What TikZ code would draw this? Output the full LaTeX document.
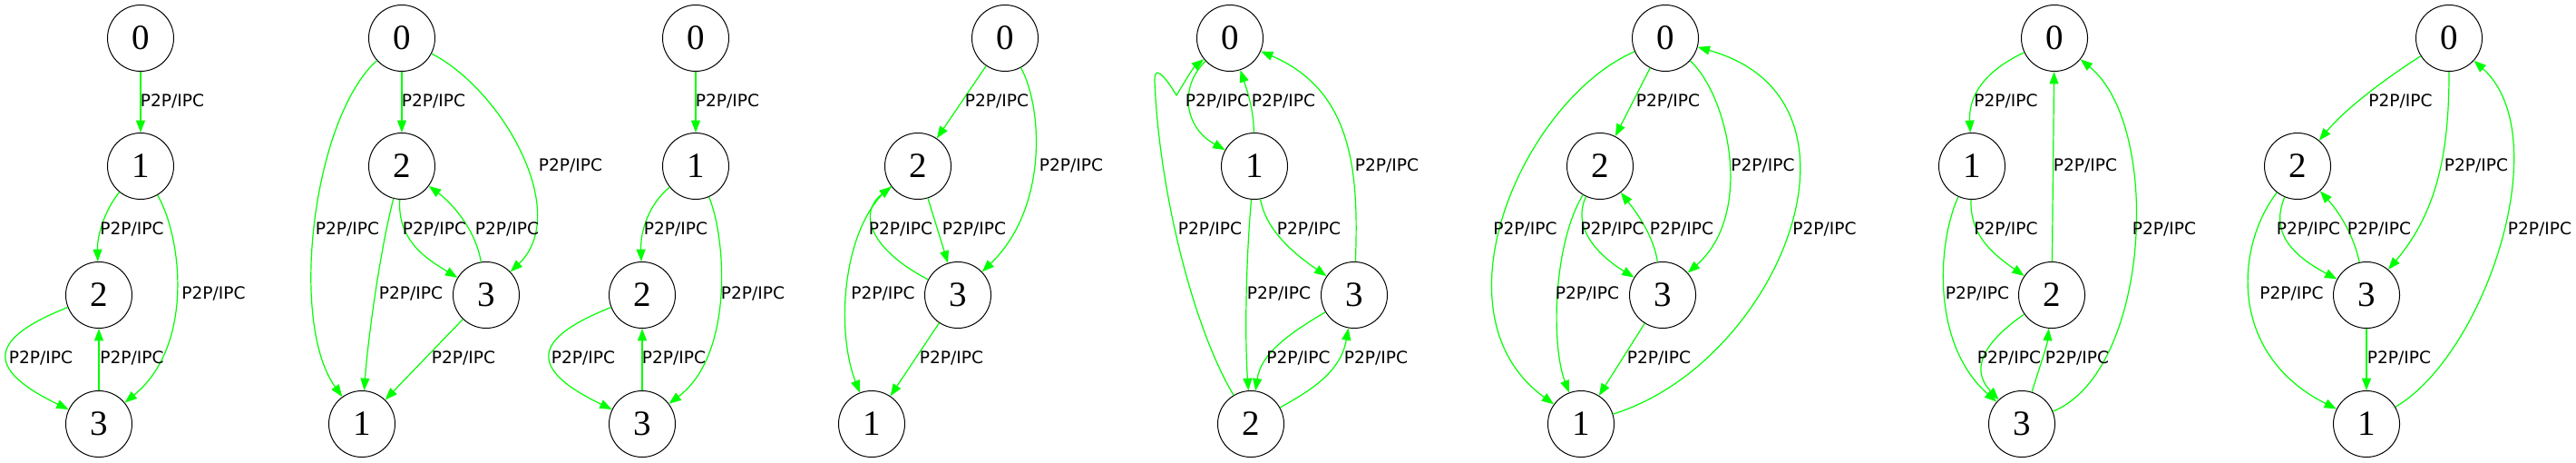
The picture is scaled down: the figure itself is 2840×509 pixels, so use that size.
\documentclass[tikz,border=0pt]{standalone}
\usepackage{fontspec}
\newfontfamily\lblfont{DejaVu Sans}
\newfontfamily\numfont{Liberation Serif}
\usetikzlibrary{arrows.meta}
\definecolor{ggreen}{HTML}{00FF00}
\begin{document}
\begin{tikzpicture}[x=0.5pt,y=-0.5pt,
  st/.style={circle,draw=black,line width=0.5pt,minimum size=36.5pt,inner sep=0pt,font=\numfont\fontsize{19.5pt}{20pt}\selectfont},
  e/.style={draw=ggreen,line width=0.6pt,-{Triangle[length=6.7pt,width=5pt]}},
  lb/.style={font=\lblfont\fontsize{9.3pt}{10pt}\selectfont,inner sep=0pt}]
\useasboundingbox (0,0) rectangle (2840,509);
% ---------- graph 1
\node[st] (a0) at (155,42) {0};
\node[st] (a1) at (155,183) {1};
\node[st] (a2) at (109,325) {2};
\node[st] (a3) at (109,467) {3};
\draw[e] (a0) -- (a1);
\draw[e] (a1) .. controls (115,232) and (107,260) .. (a2);
\draw[e] (a1) .. controls (200,260) and (215,380) .. (a3);
\draw[e] (a2) .. controls (-10,372) and (-20,405) .. (a3);
\draw[e] (a3) -- (a2);
\node[lb] (la1) at (190,111) {P2P/IPC};
\node[lb] (la2) at (145.5,252) {P2P/IPC};
\node[lb] (la3) at (235.5,323) {P2P/IPC};
\node[lb] (la4) at (45,394) {P2P/IPC};
\node[lb] (la5) at (145.5,394) {P2P/IPC};
% ---------- graph 2
\node[st] (b0) at (443,42) {0};
\node[st] (b2) at (443,183) {2};
\node[st] (b3) at (536,325) {3};
\node[st] (b1) at (399,467) {1};
\draw[e] (b0) -- (b2);
\draw[e] (b0) .. controls (555,100) and (630,235) .. (b3);
\draw[e] (b0) .. controls (345,130) and (318,355) .. (b1);
\draw[e] (b2) .. controls (438,265) and (470,285) .. (b3);
\draw[e] (b3) .. controls (525,255) and (500,225) .. (b2);
\draw[e] (b2) .. controls (418,280) and (405,380) .. (b1);
\draw[e] (b3) -- (b1);
\node[lb] (lb1) at (478,111) {P2P/IPC};
\node[lb] (lb2) at (629,182) {P2P/IPC};
\node[lb] (lb3) at (383,252) {P2P/IPC};
\node[lb] (lb4) at (479,252) {P2P/IPC};
\node[lb] (lb5) at (559,252) {P2P/IPC};
\node[lb] (lb6) at (453,323) {P2P/IPC};
\node[lb] (lb7) at (511,394) {P2P/IPC};
% ---------- graph 3
\node[st] (c0) at (767,42) {0};
\node[st] (c1) at (767,183) {1};
\node[st] (c2) at (708,325) {2};
\node[st] (c3) at (708,467) {3};
\draw[e] (c0) -- (c1);
\draw[e] (c1) .. controls (715,225) and (706,255) .. (c2);
\draw[e] (c1) .. controls (800,260) and (810,390) .. (c3);
\draw[e] (c2) .. controls (589,372) and (579,405) .. (c3);
\draw[e] (c3) -- (c2);
\node[lb] (lc1) at (802,111) {P2P/IPC};
\node[lb] (lc2) at (745,252) {P2P/IPC};
\node[lb] (lc3) at (830,323) {P2P/IPC};
\node[lb] (lc4) at (643,394) {P2P/IPC};
\node[lb] (lc5) at (743,394) {P2P/IPC};
% ---------- graph 4
\node[st] (d0) at (1108,42) {0};
\node[st] (d2) at (1012,183) {2};
\node[st] (d3) at (1056,325) {3};
\node[st] (d1) at (961,467) {1};
\draw[e] (d0) -- (d2);
\draw[e] (d0) .. controls (1150,120) and (1155,230) .. (d3);
\draw[e] (d2) -- (d3);
\draw[e] (d3) .. controls (960,275) and (945,235) .. (d2);
\draw[e] (d2) .. controls (930,245) and (920,360) .. (d1);
\draw[e] (d3) -- (d1);
\node[lb] (ld1) at (1099,111) {P2P/IPC};
\node[lb] (ld2) at (1181,182) {P2P/IPC};
\node[lb] (ld3) at (993,252) {P2P/IPC};
\node[lb] (ld4) at (1074,252) {P2P/IPC};
\node[lb] (ld5) at (973.5,323) {P2P/IPC};
\node[lb] (ld6) at (1049,394) {P2P/IPC};
% ---------- graph 5
\node[st] (e0) at (1356,42) {0};
\node[st] (e1) at (1383,183) {1};
\node[st] (e3) at (1493,325) {3};
\node[st] (e2) at (1379,467) {2};
\draw[e] (e0) .. controls (1300,95) and (1305,140) .. (e1);
\draw[e] (e1) .. controls (1382,120) and (1375,100) .. (e0);
\draw[e] (e3) .. controls (1498,190) and (1492,100) .. (e0);
\draw[e] (e2) .. controls (1315,360) and (1278,210) .. (1273,90) .. controls (1272,72) and (1282,80) .. (1297,105) .. controls (1305,92) and (1315,75) .. (e0);
\draw[e] (e1) .. controls (1395,250) and (1420,275) .. (e3);
\draw[e] (e1) .. controls (1374,280) and (1372,370) .. (e2);
\draw[e] (e3) .. controls (1420,368) and (1390,390) .. (e2);
\draw[e] (e2) .. controls (1445,430) and (1478,410) .. (e3);
\node[lb] (le1) at (1342,111) {P2P/IPC};
\node[lb] (le2) at (1415,111) {P2P/IPC};
\node[lb] (le3) at (1529,182) {P2P/IPC};
\node[lb] (le4) at (1334,252) {P2P/IPC};
\node[lb] (le5) at (1443,252) {P2P/IPC};
\node[lb] (le6) at (1410,323) {P2P/IPC};
\node[lb] (le7) at (1431.5,394) {P2P/IPC};
\node[lb] (le8) at (1517,394) {P2P/IPC};
% ---------- graph 6
\node[st] (f0) at (1836,42) {0};
\node[st] (f2) at (1764,183) {2};
\node[st] (f3) at (1833,325) {3};
\node[st] (f1) at (1743,467) {1};
\draw[e] (f0) -- (f2);
\draw[e] (f0) .. controls (1905,105) and (1935,235) .. (f3);
\draw[e] (f0) .. controls (1680,110) and (1575,345) .. (f1);
\draw[e] (f2) .. controls (1733,250) and (1760,280) .. (f3);
\draw[e] (f3) .. controls (1823,260) and (1805,235) .. (f2);
\draw[e] (f1) .. controls (1960,400) and (2080,110) .. (f0);
\draw[e] (f2) .. controls (1712,270) and (1710,380) .. (f1);
\draw[e] (f3) -- (f1);
\node[lb] (lf1) at (1839,111) {P2P/IPC};
\node[lb] (lf2) at (1943.5,182) {P2P/IPC};
\node[lb] (lf3) at (1681.5,252) {P2P/IPC};
\node[lb] (lf4) at (1777.5,252) {P2P/IPC};
\node[lb] (lf5) at (1854,252) {P2P/IPC};
\node[lb] (lf6) at (2011.5,252) {P2P/IPC};
\node[lb] (lf7) at (1750,323) {P2P/IPC};
\node[lb] (lf8) at (1829,394) {P2P/IPC};
% ---------- graph 7
\node[st] (g0) at (2265,42) {0};
\node[st] (g1) at (2174,183) {1};
\node[st] (g2) at (2262,325) {2};
\node[st] (g3) at (2229,467) {3};
\draw[e] (g0) .. controls (2195,75) and (2170,100) .. (g1);
\draw[e] (g2) -- (g0);
\draw[e] (g3) .. controls (2370,410) and (2385,140) .. (g0);
\draw[e] (g1) .. controls (2172,255) and (2190,275) .. (g2);
\draw[e] (g1) .. controls (2135,270) and (2130,380) .. (g3);
\draw[e] (g2) .. controls (2190,375) and (2170,405) .. (g3);
\draw[e] (g3) .. controls (2250,400) and (2257,380) .. (g2);
\node[lb] (lg1) at (2211.5,111) {P2P/IPC};
\node[lb] (lg2) at (2299,182) {P2P/IPC};
\node[lb] (lg3) at (2211.5,252) {P2P/IPC};
\node[lb] (lg4) at (2386,252) {P2P/IPC};
\node[lb] (lg5) at (2180,323) {P2P/IPC};
\node[lb] (lg6) at (2215,394) {P2P/IPC};
\node[lb] (lg7) at (2290,394) {P2P/IPC};
% ---------- graph 8
\node[st] (h0) at (2700,42) {0};
\node[st] (h2) at (2533,183) {2};
\node[st] (h3) at (2609,325) {3};
\node[st] (h1) at (2609,467) {1};
\draw[e] (h0) .. controls (2640,80) and (2590,115) .. (h2);
\draw[e] (h0) .. controls (2700,160) and (2690,230) .. (h3);
\draw[e] (h1) .. controls (2740,390) and (2820,150) .. (h0);
\draw[e] (h2) .. controls (2503,255) and (2525,280) .. (h3);
\draw[e] (h3) .. controls (2595,260) and (2580,235) .. (h2);
\draw[e] (h2) .. controls (2465,270) and (2455,390) .. (h1);
\draw[e] (h3) -- (h1);
\node[lb] (lh1) at (2646.5,111) {P2P/IPC};
\node[lb] (lh2) at (2730,182) {P2P/IPC};
\node[lb] (lh3) at (2545,252) {P2P/IPC};
\node[lb] (lh4) at (2623,252) {P2P/IPC};
\node[lb] (lh5) at (2800,252) {P2P/IPC};
\node[lb] (lh6) at (2526.5,323) {P2P/IPC};
\node[lb] (lh7) at (2645,394) {P2P/IPC};
\end{tikzpicture}
\end{document}
